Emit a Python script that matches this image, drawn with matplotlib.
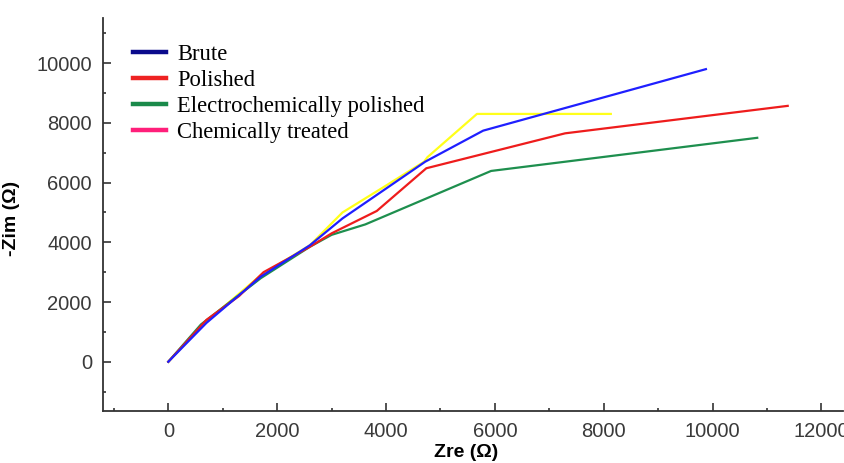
import matplotlib
matplotlib.use("Agg")
import matplotlib.pyplot as plt
from matplotlib.lines import Line2D
from matplotlib.ticker import MultipleLocator

# Data
brute_x = [0, 700, 1700, 2600, 3200, 4000, 4720, 5785, 9877]
brute_y = [0, 1300, 2850, 3900, 4800, 5800, 6700, 7740, 9800]

polished_x = [0, 700, 1300, 1750, 2600, 3000, 3830, 4740, 7290, 11380]
polished_y = [0, 1400, 2200, 3000, 3850, 4300, 5050, 6480, 7650, 8570]

electro_x = [0, 600, 1700, 2600, 3000, 3620, 5930, 10820]
electro_y = [0, 1250, 2800, 3850, 4250, 4600, 6390, 7500]

chem_x = [0, 700, 1700, 2600, 3200, 4000, 4700, 4760, 5670, 8130]
chem_y = [0, 1350, 2900, 3900, 5000, 5900, 6700, 6850, 8300, 8300]

labels = ["Brute", "Polished", "Electrochemically polished", "Chemically treated"]
legend_colors = ["#0a0a8c", "#ee2222", "#1a8a4a", "#ff1f7a"]
line_colors = ["#1f1fff", "#ee1c1c", "#1e8f4e", "#ffff1a"]

fig = plt.figure(figsize=(8.45, 4.63), dpi=100)
ax = fig.add_axes([0.1219, 0.1123, 0.876, 0.848])

series = [(brute_x, brute_y), (polished_x, polished_y),
          (electro_x, electro_y), (chem_x, chem_y)]
order = [3, 2, 1, 0]
for i in order:
    x, y = series[i]
    ax.plot(x, y, color=line_colors[i], lw=1.6, zorder=2 + (3 - i))

ax.set_xlim(-1200, 12400)
ax.set_ylim(-1650, 11500)
ax.xaxis.set_major_locator(MultipleLocator(2000))
ax.xaxis.set_minor_locator(MultipleLocator(1000))
ax.yaxis.set_major_locator(MultipleLocator(2000))
ax.yaxis.set_minor_locator(MultipleLocator(1000))

for s in ["top", "right"]:
    ax.spines[s].set_visible(False)
for s in ["left", "bottom"]:
    ax.spines[s].set_color("#333333")
    ax.spines[s].set_linewidth(1.3)

ax.tick_params(which="major", direction="in", length=6, width=1.2,
               color="#333333", labelsize=14.5, labelcolor="#3a3a3a", pad=8)
ax.tick_params(which="minor", direction="in", length=2.5, width=1.2,
               color="#333333")
for lab in ax.get_xticklabels() + ax.get_yticklabels():
    lab.set_fontfamily("Liberation Sans")

ax.set_xlabel("Zre (Ω)", fontsize=14, fontweight="bold",
              family="Liberation Sans")
ax.xaxis.set_label_coords(0.49, -0.085)
ax.set_ylabel("-Zim (Ω)", fontsize=14, fontweight="bold",
              family="Liberation Sans")
ax.yaxis.set_label_coords(-0.112, 0.49)

handles = [Line2D([0], [0], color=c, lw=3.2) for c in legend_colors]
leg = ax.legend(handles, labels, loc="upper left", bbox_to_anchor=(0.028, 0.959),
                frameon=False, prop={"family": "Liberation Serif", "size": 16.3},
                handlelength=1.45, handletextpad=0.5, labelspacing=0.23,
                borderaxespad=0.0)

fig.savefig("out.png", dpi=100)
